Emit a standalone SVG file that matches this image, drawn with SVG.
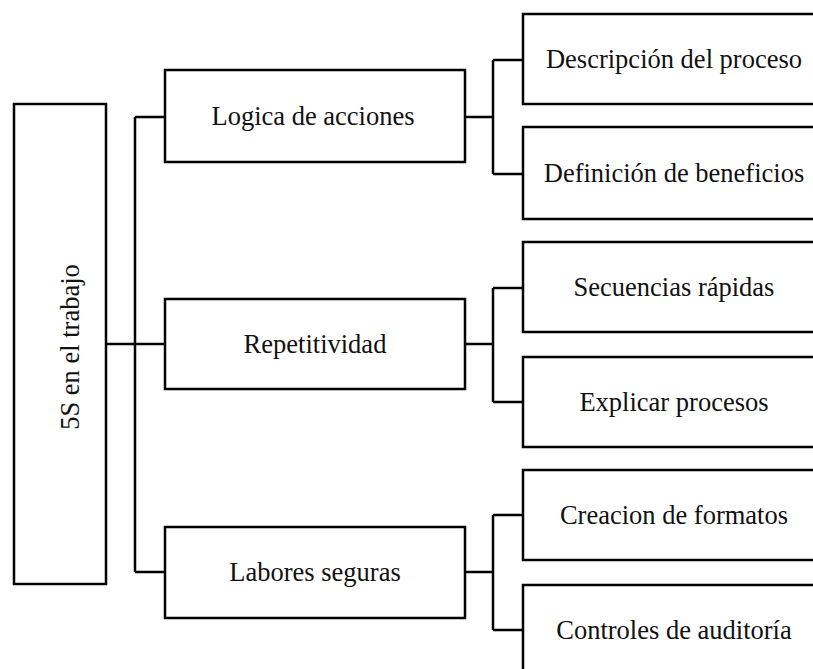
<svg xmlns="http://www.w3.org/2000/svg" width="813" height="669" viewBox="0 0 813 669">
<style>
.box{fill:#fff;stroke:#000;stroke-width:2.5}
.ln{fill:none;stroke:#000;stroke-width:2.5}
.t{font-family:'Liberation Serif','Times New Roman','DejaVu Serif',serif;font-size:26.5px;fill:#111;text-anchor:middle;dominant-baseline:central}
</style>
<rect width="813" height="669" fill="#fff"/>
<g id="connectors">
<path class="ln" d="M106,344 H135 M135,117 V572 M135,117 H165 M135,344 H165 M135,572 H165"/>
<path class="ln" d="M465,117 H493 M493,60 V174 M493,60 H523 M493,174 H523"/>
<path class="ln" d="M465,344 H493 M493,288 V402 M493,288 H523 M493,402 H523"/>
<path class="ln" d="M465,572 H493 M493,515 V630 M493,515 H523 M493,630 H523"/>
</g>
<g id="root"><rect class="box" x="14" y="104" width="92" height="480"/><text class="t" transform="translate(70,347) rotate(-90)">5S en el trabajo</text></g>
<g id="logica"><rect class="box" x="165" y="70" width="300" height="92"/><text class="t" x="313" y="116">Logica de acciones</text></g>
<g id="repetitividad"><rect class="box" x="165" y="299" width="300" height="90"/><text class="t" x="315" y="344">Repetitividad</text></g>
<g id="labores"><rect class="box" x="165" y="527" width="300" height="91"/><text class="t" x="315" y="572">Labores seguras</text></g>
<g id="descripcion"><rect class="box" x="523" y="14" width="310" height="90"/><text class="t" x="674" y="59">Descripción del proceso</text></g>
<g id="definicion"><rect class="box" x="523" y="127" width="310" height="92"/><text class="t" x="674" y="173">Definición de beneficios</text></g>
<g id="secuencias"><rect class="box" x="523" y="242" width="310" height="90"/><text class="t" x="674" y="287">Secuencias rápidas</text></g>
<g id="explicar"><rect class="box" x="523" y="357" width="310" height="90"/><text class="t" x="674" y="402">Explicar procesos</text></g>
<g id="creacion"><rect class="box" x="523" y="470" width="310" height="90"/><text class="t" x="674" y="515">Creacion de formatos</text></g>
<g id="controles"><rect class="box" x="523" y="585" width="310" height="100"/><text class="t" x="674" y="630">Controles de auditoría</text></g>
</svg>
